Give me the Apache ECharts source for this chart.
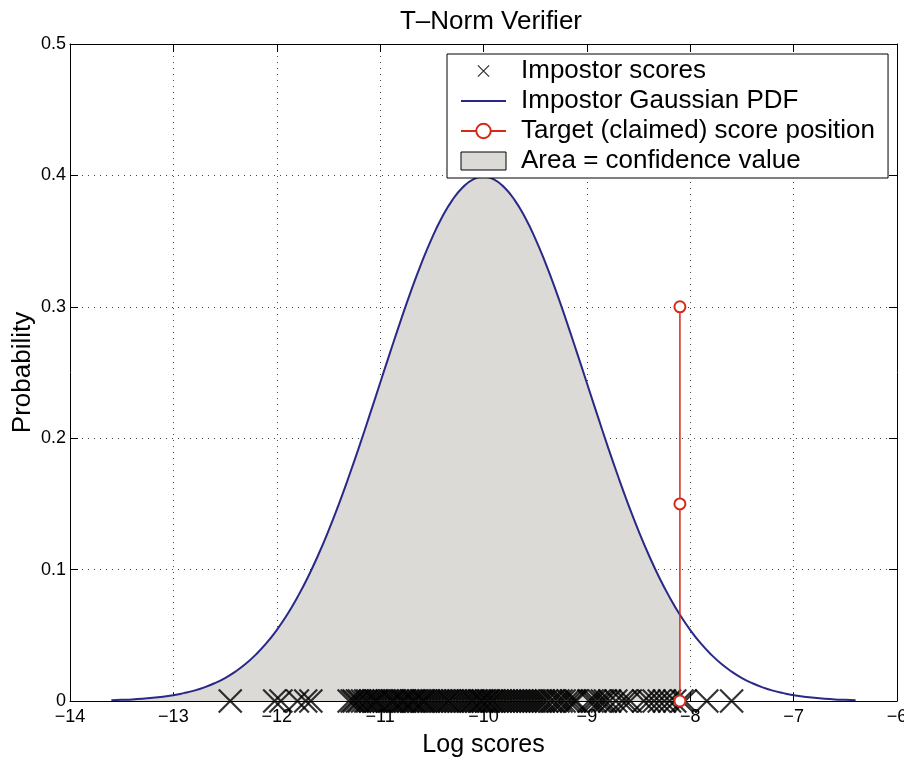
<!DOCTYPE html>
<html>
<head>
<meta charset="utf-8">
<script src="https://cdn.jsdelivr.net/npm/echarts@6/dist/echarts.min.js"></script>
<style>html,body{margin:0;padding:0;background:#fff;overflow:hidden}#c{width:904px;height:758px}</style>
</head>
<body>
<div id="c"></div>
<script>
// Impostor Gaussian PDF
const pdfX = [-13.6,-13.5,-13.4,-13.3,-13.2,-13.1,-13.0,-12.9,-12.8,-12.7,-12.6,-12.5,-12.4,-12.3,-12.2,-12.1,-12.0,-11.9,-11.8,-11.7,-11.6,-11.5,-11.4,-11.3,-11.2,-11.1,-11.0,-10.9,-10.8,-10.7,-10.6,-10.5,-10.4,-10.3,-10.2,-10.1,-10.0,-9.9,-9.8,-9.7,-9.6,-9.5,-9.4,-9.3,-9.2,-9.1,-9.0,-8.9,-8.8,-8.7,-8.6,-8.5,-8.4,-8.3,-8.2,-8.1,-8.0,-7.9,-7.8,-7.7,-7.6,-7.5,-7.4,-7.3,-7.2,-7.1,-7.0,-6.9,-6.8,-6.7,-6.6,-6.5,-6.4];
const pdfY = [0.0006,0.0009,0.0012,0.0017,0.0024,0.0033,0.0044,0.0060,0.0079,0.0104,0.0136,0.0175,0.0224,0.0283,0.0355,0.0440,0.0540,0.0656,0.0790,0.0940,0.1109,0.1295,0.1497,0.1714,0.1942,0.2179,0.2420,0.2661,0.2897,0.3123,0.3332,0.3521,0.3683,0.3814,0.3910,0.3970,0.3989,0.3970,0.3910,0.3814,0.3683,0.3521,0.3332,0.3123,0.2897,0.2661,0.2420,0.2179,0.1942,0.1714,0.1497,0.1295,0.1109,0.0940,0.0790,0.0656,0.0540,0.0440,0.0355,0.0283,0.0224,0.0175,0.0136,0.0104,0.0079,0.0060,0.0044,0.0033,0.0024,0.0017,0.0012,0.0009,0.0006];
// Target (claimed) score position
const targetX = -8.1;
const targetY = [0, 0.15, 0.3];
// Impostor scores
const impostorScores = [-12.45,-12.02,-11.96,-11.8,-11.72,-11.67,
 -11.3,-11.27,-11.25,-11.22,-11.2,-11.17,-11.14,-11.12,-11.09,-11.06,-11.04,-11.02,-10.99,-10.96,-10.93,-10.9,-10.88,-10.86,-10.83,-10.8,-10.78,-10.76,-10.73,-10.7,-10.68,-10.66,-10.63,-10.6,-10.58,-10.56,-10.53,-10.5,-10.47,-10.44,-10.41,-10.38,-10.35,-10.33,-10.3,-10.27,-10.24,-10.21,-10.18,-10.15,-10.12,-10.1,-10.07,-10.04,-10.02,-10.0,-9.97,-9.95,-9.92,-9.9,-9.87,-9.84,-9.81,-9.78,-9.75,-9.72,-9.69,-9.66,-9.63,-9.6,-9.57,-9.54,-9.51,-9.48,-9.45,-9.42,-9.39,-9.35,-9.32,-9.28,-9.25,-9.22,-9.18,-9.15,-9.12,-9.1,-8.98,-8.95,-8.92,-8.88,-8.85,-8.82,-8.78,-8.72,-8.66,-8.62,-8.58,-8.45,-8.4,-8.35,-8.3,-8.25,-8.2,-8.15,-8.08,-8.05,
 -7.84,-7.6];
const xTicks = [-14,-13,-12,-11,-10,-9,-8,-7,-6];
const yTicks = [0,0.1,0.2,0.3,0.4,0.5];

const curve = pdfX.map((x,i)=>[x,pdfY[i]]);
const area = curve.filter(p=>p[0] <= targetX + 1e-9);
const crossPath = 'path://M0,0L10,10M10,0L0,10';
const legendCross = 'path://M-3,-3M0,0L10,10M10,0L0,10M13,13';
const FONT = 'Liberation Sans';
const FILL = '#dcdad6';

const chart = echarts.init(document.getElementById('c'), null, {renderer:'canvas'});
const fmt = v => String(v).replace('-', '\u2212');
const axisCommon = {
  axisLine:{show:true,onZero:false,lineStyle:{color:'#000',width:1}},
  axisTick:{show:true,inside:true,length:8,lineStyle:{color:'#000'}},
};
chart.setOption({
  animation:false,
  backgroundColor:'#fff',
  title:{text:'T\u2013Norm Verifier',left:486,textAlign:'center',top:4,
    textStyle:{fontFamily:FONT,fontSize:26,fontWeight:'normal',color:'#000'}},
  grid:{left:70,right:7,top:44,bottom:57,containLabel:false,outerBoundsMode:'none'},
  legend:{
    orient:'vertical',left:447,top:54,
    backgroundColor:'#fff',borderColor:'#000',borderWidth:1,
    padding:[4,13,4,13],itemGap:4,itemWidth:45,itemHeight:18,
    textStyle:{fontFamily:FONT,fontSize:26,color:'#000',padding:[0,0,0,10]},
    data:[
      {name:'Impostor scores',icon:legendCross,itemStyle:{color:'none',borderColor:'#000',borderWidth:1.3}},
      {name:'Impostor Gaussian PDF',itemStyle:{color:'rgba(0,0,0,0)',borderColor:'rgba(0,0,0,0)',borderWidth:0}},
      {name:'Target (claimed) score position'},
      {name:'Area = confidence value',icon:'rect',itemStyle:{color:FILL,borderColor:'#000',borderWidth:1}}
    ]
  },
  xAxis:[
    Object.assign({type:'value',min:-14,max:-6,interval:1,position:'bottom',
      axisLabel:{fontFamily:FONT,fontSize:18,color:'#000',margin:7,formatter:fmt},
      splitLine:{show:true,lineStyle:{color:'#444',type:[1,5],width:1}},
      name:'Log scores',nameLocation:'middle',nameGap:32,
      nameTextStyle:{fontFamily:FONT,fontSize:25,color:'#000'}},axisCommon),
    Object.assign({type:'value',min:-14,max:-6,interval:1,position:'top',
      axisLabel:{show:false},splitLine:{show:false}},axisCommon)
  ],
  yAxis:[
    Object.assign({type:'value',min:0,max:0.5,interval:0.1,position:'left',
      axisLabel:{fontFamily:FONT,fontSize:18,color:'#000',margin:4},
      splitLine:{show:true,lineStyle:{color:'#444',type:[1,5],width:1}},
      name:'Probability',nameLocation:'middle',nameGap:34,nameRotate:90,nameMoveOverlap:false,
      nameTextStyle:{fontFamily:FONT,fontSize:26,color:'#000'}},axisCommon),
    Object.assign({type:'value',min:0,max:0.5,interval:0.1,position:'right',
      axisLabel:{show:false},splitLine:{show:false}},axisCommon)
  ],
  series:[
    {name:'Area = confidence value',type:'line',data:area,symbol:'none',
      lineStyle:{width:0},areaStyle:{color:FILL,opacity:1},itemStyle:{color:FILL},z:1},
    {name:'Impostor Gaussian PDF',type:'line',data:curve,symbol:'none',smooth:true,
      lineStyle:{color:'#2a2a86',width:2},itemStyle:{color:'#2a2a86'},z:3},
    {name:'Impostor scores',type:'scatter',data:impostorScores.map(v=>[v,0]),
      symbol:crossPath,symbolSize:23,
      itemStyle:{color:'none',borderColor:'#000',borderWidth:2.2},z:4},
    {name:'Target (claimed) score position',type:'line',data:targetY.map(v=>[targetX,v]),
      symbol:'emptyCircle',symbolSize:11,
      lineStyle:{color:'#d42a1a',width:1.5},itemStyle:{color:'#d42a1a',borderColor:'#d42a1a',borderWidth:1.5},z:5}
  ]
});
</script>
</body>
</html>
